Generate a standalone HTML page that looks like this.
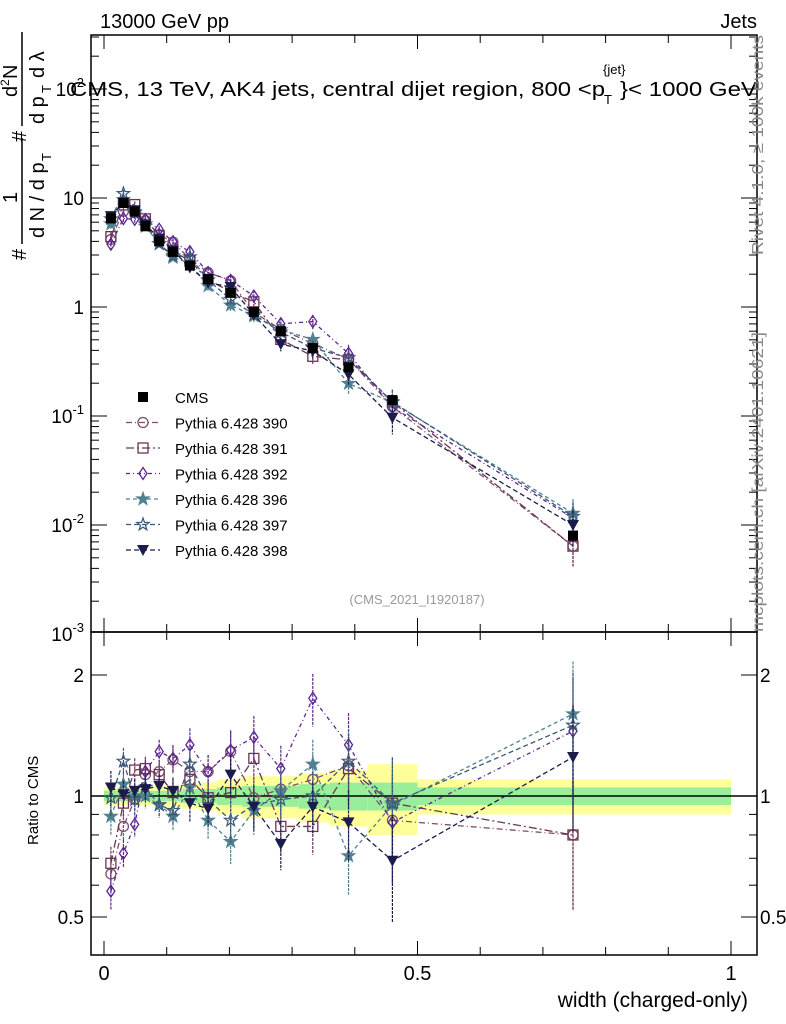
<!DOCTYPE html>
<html><head><meta charset="utf-8"><style>
body{margin:0;background:#fff;}
svg{display:block;font-family:"Liberation Sans",sans-serif;}
</style></head><body>
<svg id="c" width="786" height="1024" viewBox="0 0 786 1024">
<g id="bands"></g>
<g id="axes"></g>
<g id="series"></g>
<text x="100" y="28" font-size="20">13000 GeV pp</text>
<text x="757" y="28" font-size="20" text-anchor="end">Jets</text>
<g font-size="20">
<text x="70" y="96" textLength="535" lengthAdjust="spacingAndGlyphs">CMS, 13 TeV, AK4 jets, central dijet region, 800 &lt;p</text>
<text x="604" y="104" font-size="13">T</text>
<text x="603" y="74" font-size="13">{jet}</text>
<text x="620" y="96" textLength="137" lengthAdjust="spacingAndGlyphs">}&lt; 1000 GeV</text>
</g>
<text transform="translate(763,255) rotate(-90)" font-size="16" fill="#888" textLength="220" lengthAdjust="spacingAndGlyphs">Rivet 4.1.0, ≥ 100k events</text>
<text transform="translate(763,632) rotate(-90)" font-size="16" fill="#888" textLength="300" lengthAdjust="spacingAndGlyphs">mcplots.cern.ch [arXiv:2401.10621]</text>
<text x="417" y="604" font-size="13" fill="#999" text-anchor="middle">(CMS_2021_I1920187)</text>
<g transform="translate(0,260) rotate(-90)" font-size="20">
<text x="0" y="26">#</text>
<line x1="16" x2="122" y1="22" y2="22" stroke="#000" stroke-width="1.5"/>
<text x="57" y="17">1</text>
<text x="22" y="44">d N / d p</text><text x="99" y="51" font-size="13">T</text>
<text x="118" y="26">#</text>
<line x1="134" x2="228" y1="22" y2="22" stroke="#000" stroke-width="1.5"/>
<text x="163" y="17">d</text><text x="174" y="9" font-size="12">2</text><text x="181" y="17">N</text>
<text x="136" y="44">d p</text><text x="167" y="51" font-size="13">T</text><text x="182" y="44">d λ</text>
</g>
<text transform="translate(38,845) rotate(-90)" font-size="15">Ratio to CMS</text>
<text x="748" y="1007" font-size="21" text-anchor="end">width (charged-only)</text>
<g id="legend"></g>
</svg>
<script>
const xs=[0.011,0.031,0.049,0.066,0.088,0.110,0.137,0.166,0.202,0.239,0.282,0.333,0.390,0.460,0.748];
const cms=[6.5,9.0,7.5,5.5,4.0,3.2,2.4,1.8,1.35,0.9,0.6,0.42,0.28,0.14,0.008];
const r390=[0.64,0.84,0.98,1.13,1.15,1.23,1.15,1.15,1.29,0.99,1.04,1.1,1.19,0.87,0.8];
const r391=[0.68,0.96,1.16,1.17,1.13,1.02,1.1,0.99,1.02,1.24,0.84,0.84,1.17,0.96,0.8];
const r392=[0.58,0.72,0.85,1.15,1.29,1.24,1.34,1.15,1.3,1.4,1.17,1.75,1.34,0.86,1.45];
const r396=[0.89,1.07,1.0,1.0,0.95,0.89,1.05,0.87,0.77,0.92,1.03,1.2,0.71,0.95,1.6];
const r397=[0.99,1.22,0.98,1.05,0.95,0.92,1.2,0.98,0.87,0.95,0.98,1.0,1.22,0.96,1.5];
const r398=[1.05,1.01,1.03,1.04,1.06,1.03,0.96,0.93,1.13,0.94,0.76,0.94,0.86,0.69,1.25];
const relErr=[0.1,0.08,0.07,0.07,0.07,0.08,0.1,0.1,0.12,0.13,0.14,0.15,0.2,0.3,0.35];
const binEdges=[0,0.02,0.04,0.06,0.08,0.1,0.125,0.15,0.18,0.22,0.26,0.31,0.36,0.42,0.5,1.0];
const bandYellow=[0.05,0.05,0.05,0.05,0.06,0.06,0.07,0.08,0.1,0.12,0.12,0.14,0.16,0.2,0.1];
const bandGreen=[0.03,0.03,0.03,0.03,0.03,0.03,0.04,0.04,0.05,0.06,0.06,0.07,0.08,0.08,0.05];
const xTicks=[0,0.5,1];
const yDecades=[-3,-2,-1,0,1,2];
const ratioTicks=[0.5,1,2];

const NS="http://www.w3.org/2000/svg";
const L=91,R=757,T=35,M=632,B=955;
const X=v=>104+627*v;
const Y=v=>307-109*Math.log10(v);
const YR=v=>796-402*Math.log10(v);
function mk(tag,attrs,parent){const e=document.createElementNS(NS,tag);for(const k in attrs)e.setAttribute(k,attrs[k]);parent.appendChild(e);return e;}
const bands=document.getElementById('bands'),axes=document.getElementById('axes'),ser=document.getElementById('series'),leg=document.getElementById('legend');

for(let i=0;i<bandYellow.length;i++){
 const x0=X(binEdges[i]),x1=X(binEdges[i+1]);
 const y=mk('rect',{x:x0,y:YR(1+bandYellow[i]),width:x1-x0,height:YR(1-bandYellow[i])-YR(1+bandYellow[i]),fill:'#ffff99'},bands);
 
 
 const g=mk('rect',{x:x0,y:YR(1+bandGreen[i]),width:x1-x0,height:YR(1-bandGreen[i])-YR(1+bandGreen[i]),fill:'#99ee99'},bands);
 
 
}
mk('rect',{x:L,y:T,width:R-L,height:M-T,fill:'none',stroke:'#000','stroke-width':1.5},axes);
mk('rect',{x:L,y:M,width:R-L,height:B-M,fill:'none',stroke:'#000','stroke-width':1.5},axes);
mk('line',{x1:L,x2:R,y1:YR(1),y2:YR(1),stroke:'#000','stroke-width':1.5},axes);
for(let v=0;v<=1.0001;v+=0.1){
 const big=Math.abs(v-Math.round(v*2)/2)<1e-6, len=big?14:8;
 for(const [y0,d] of [[T,1],[M,-1],[M,1],[B,-1]]) mk('line',{x1:X(v),x2:X(v),y1:y0,y2:y0+d*len,stroke:'#000'},axes);
}
xTicks.forEach(v=>{const t=mk('text',{x:X(v),y:980,'font-size':20,'text-anchor':'middle'},axes);t.textContent=String(v);
 
 });
yDecades.forEach(d=>{
 for(let k=1;k<10;k++){const v=k*Math.pow(10,d),y=Y(v);if(y<T||y>M)continue;const len=k==1?16:8;
  mk('line',{x1:L,x2:L+len,y1:y,y2:y,stroke:'#000'},axes);mk('line',{x1:R,x2:R-len,y1:y,y2:y,stroke:'#000'},axes);}
 const t=mk('text',{x:84,y:Y(Math.pow(10,d))+7,'font-size':19,'text-anchor':'end'},axes);
 
 
 if(d==0)t.textContent='1';else if(d==1)t.textContent='10';
 else{t.textContent='10';const s=mk('tspan',{'font-size':13,dy:-9},t);s.textContent=String(d);}
});
[0.4,0.5,0.6,0.7,0.8,0.9,1,2].forEach(v=>{const y=YR(v);if(y>B||y<M)return;const len=(v==0.5||v==1||v==2)?16:8;
 mk('line',{x1:L,x2:L+len,y1:y,y2:y,stroke:'#000'},axes);mk('line',{x1:R,x2:R-len,y1:y,y2:y,stroke:'#000'},axes);});
ratioTicks.forEach(v=>{for(const [x,a] of [[84,'end'],[760,'start']]){const t=mk('text',{x:x,y:YR(v)+7,'font-size':19,'text-anchor':a},axes);t.textContent=String(v);
 
 }});

function marker(g,type,x,y,c){
 const s=5;
 if(type=='sq')mk('rect',{x:x-s,y:y-s,width:2*s,height:2*s,fill:'#000'},g);
 else if(type=='circle')mk('circle',{cx:x,cy:y,r:s,fill:'none',stroke:c,'stroke-width':1.3},g);
 else if(type=='osq')mk('rect',{x:x-s,y:y-s,width:2*s,height:2*s,fill:'none',stroke:c,'stroke-width':1.3},g);
 else if(type=='diam')mk('polygon',{points:`${x},${y-6} ${x+4},${y} ${x},${y+6} ${x-4},${y}`,fill:'none',stroke:c,'stroke-width':1.3},g);
 else if(type=='star'||type=='ostar'){let p=[];for(let i=0;i<10;i++){const r=i%2?2.6:6.5,a=-Math.PI/2+i*Math.PI/5;p.push((x+r*Math.cos(a)).toFixed(1)+','+(y+r*Math.sin(a)).toFixed(1));}
  mk('polygon',{points:p.join(' '),fill:type=='star'?c:'none',stroke:c,'stroke-width':1.2},g);}
 else if(type=='tri')mk('polygon',{points:`${x-6},${y-5} ${x+6},${y-5} ${x},${y+6}`,fill:c},g);
}
const series=[
 {n:'Pythia 6.428 390',r:r390,c:'#7b4e6e',m:'circle',d:'6 3 1 3'},
 {n:'Pythia 6.428 391',r:r391,c:'#6b3556',m:'osq',d:'8 3 2 3'},
 {n:'Pythia 6.428 392',r:r392,c:'#5b2590',m:'diam',d:'4 3 1 3'},
 {n:'Pythia 6.428 396',r:r396,c:'#4f8190',m:'star',d:'4 3'},
 {n:'Pythia 6.428 397',r:r397,c:'#3a5877',m:'ostar',d:'5 3'},
 {n:'Pythia 6.428 398',r:r398,c:'#1b1c4c',m:'tri',d:'5 3'}
];
series.forEach((s,si)=>{
 const g=mk('g',{},ser);
 
 
 const main=xs.map((x,i)=>[X(x),Y(cms[i]*s.r[i])]), rat=xs.map((x,i)=>[X(x),YR(s.r[i])]);
 for(const pts of [main,rat]) mk('polyline',{points:pts.map(p=>p.join(',')).join(' '),fill:'none',stroke:s.c,'stroke-width':1.3,'stroke-dasharray':s.d},g);
 xs.forEach((x,i)=>{
  const v=cms[i]*s.r[i],e=relErr[i];
  mk('line',{x1:X(x),x2:X(x),y1:Y(v*(1+e)),y2:Y(v*(1-e)),stroke:s.c,'stroke-width':1.2,'stroke-dasharray':'3 1'},g);
  mk('line',{x1:X(x),x2:X(x),y1:YR(s.r[i]*(1+e)),y2:YR(s.r[i]*(1-e)),stroke:s.c,'stroke-width':1.2,'stroke-dasharray':'3 1'},g);
  marker(g,s.m,X(x),Y(v),s.c);
  marker(g,s.m,X(x),YR(s.r[i]),s.c);
 });
});
const cg=mk('g',{},ser);


xs.forEach((x,i)=>marker(cg,'sq',X(x),Y(cms[i]),'#000'));
const lg=[{n:'CMS',m:'sq',c:'#000'}].concat(series);
lg.forEach((s,i)=>{
 const y=397+i*25.5;
 const e=mk('g',{},leg);
 
 
 if(i>0)mk('line',{x1:126,x2:160,y1:y,y2:y,stroke:s.c,'stroke-width':1.3,'stroke-dasharray':s.d},e);
 marker(e,s.m,143,y,s.c);
 const t=mk('text',{x:175,y:y+6,'font-size':15},e);t.textContent=s.n;
});
</script>
</body></html>
